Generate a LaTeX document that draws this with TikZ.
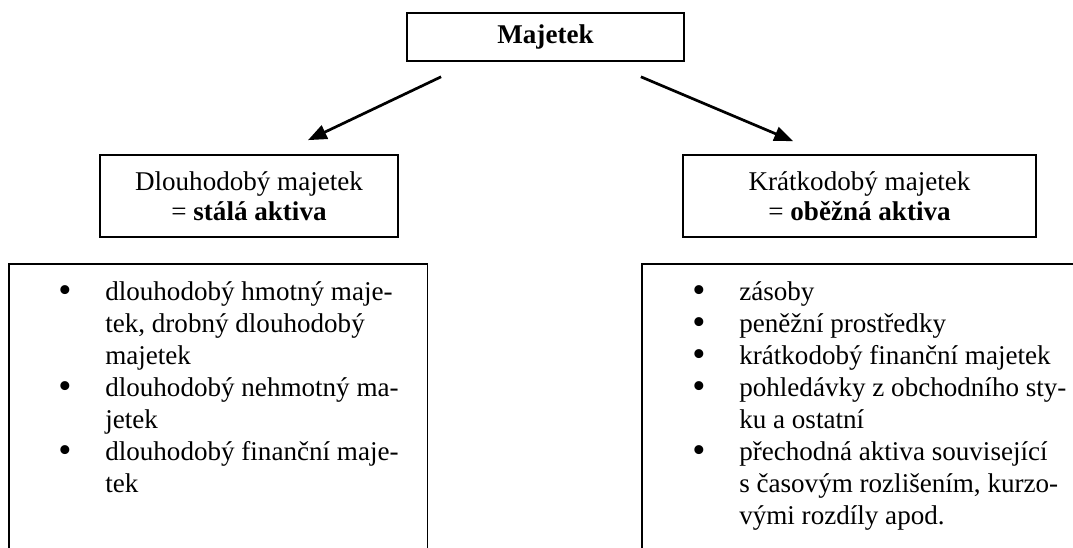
\documentclass[tikz,border=0pt]{standalone}
\usepackage{fontspec}
\setmainfont{Liberation Serif}
\usetikzlibrary{arrows.meta, positioning}
\tikzset{
	blk/.style      ={rectangle, draw=black, line width=0.8pt, align=center, font=\fontsize{13}{14.5}\selectfont},
	flowarrow/.style={-{Triangle[length=9pt, width=7pt]}, line width=1.3pt},
	% frames of the two lists (bottom runs off the page)
	grp/.style      ={rectangle, draw=black, line width=0.8pt, anchor=north west, minimum height=160pt},
}
\newcommand{\blt}{\makebox[22.5pt][l]{\smash{\raisebox{-1.2pt}{\fontsize{18}{18}\selectfont\textbullet}}}}

\begin{document}
\begin{tikzpicture}[x=0.48pt, y=0.48pt,
			lst/.style={inner sep=0pt, anchor=base west, align=left, font=\fontsize{13}{15.4}\selectfont}]
			\clip (0,0) rectangle (1073,547);
			\node[blk, minimum width=133pt, minimum height=23pt] (maj) at (545.5,510) {\textbf{Majetek}};
			\node[blk, minimum width=143pt, minimum height=39.4pt] (dl) at (249,351) {Dlouhodobý majetek\\= \textbf{stálá aktiva}};
			\node[blk, minimum width=169.4pt, minimum height=39.4pt] (kr) at (859.5,351) {Krátkodobý majetek\\= \textbf{oběžná aktiva}};
			\draw[flowarrow] ([shift={(35,-15)}]maj.south west) -- ([shift={(59,14)}]dl.north);
			\draw[flowarrow] ([shift={(-44,-15)}]maj.south east) -- ([shift={(-66.5,13)}]kr.north);
			\node[grp, minimum width=201pt] (dlbox) at (8,284) {};
			\node[grp, minimum width=240pt] (krbox) at (641,284) {};
			\node[lst] (dllist) at (58,247) {\begin{tabular}[t]{@{}l@{}l@{}}
				\blt & dlouhodobý hmotný maje-\\
				& tek, drobný dlouhodobý\\
				& majetek\\
				\blt & dlouhodobý nehmotný ma-\\
				& jetek\\
				\blt & dlouhodobý finanční maje-\\
				& tek
			\end{tabular}};
			\node[lst] (krlist) at (692,247) {\begin{tabular}[t]{@{}l@{}l@{}}
				\blt & zásoby\\
				\blt & peněžní prostředky\\
				\blt & krátkodobý finanční majetek\\
				\blt & pohledávky z obchodního sty-\\
				& ku a ostatní\\
				\blt & přechodná aktiva související\\
				& s časovým rozlišením, kurzo-\\
				& vými rozdíly apod.
			\end{tabular}};
		\end{tikzpicture}
\end{document}
